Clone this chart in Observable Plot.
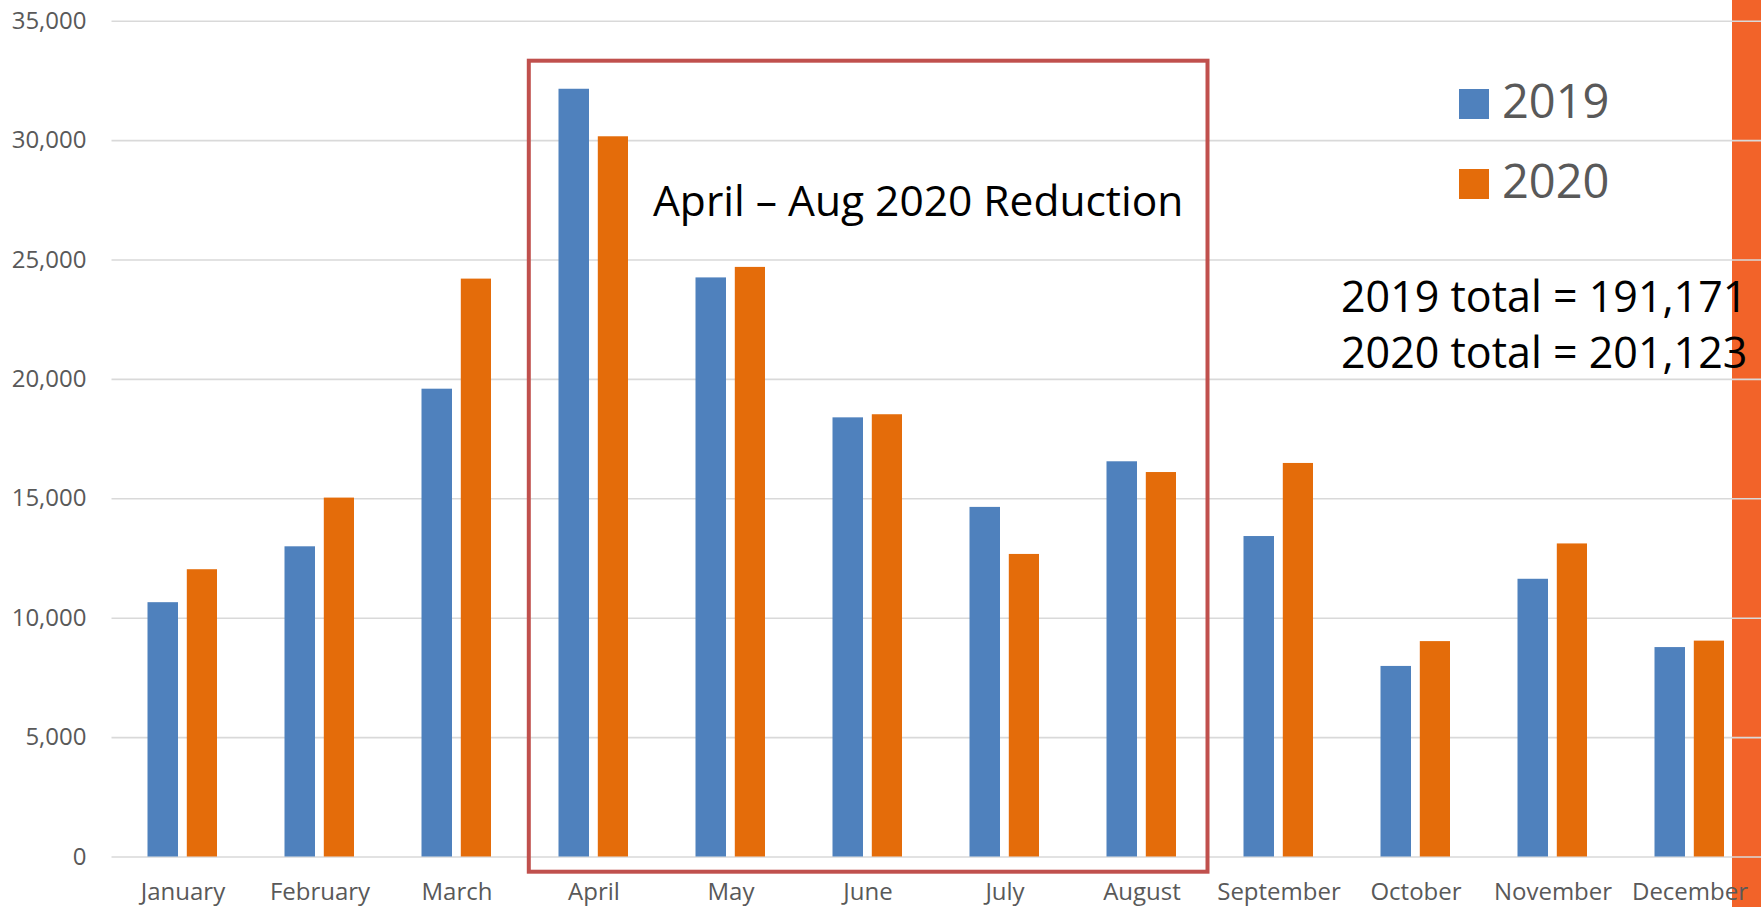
<!DOCTYPE html>
<html>
<head>
<meta charset="utf-8">
<script src="https://cdn.jsdelivr.net/npm/d3@7"></script>
<script src="https://cdn.jsdelivr.net/npm/@observablehq/plot@0.6"></script>
<style>
  html, body { margin: 0; padding: 0; background: #fff; overflow: hidden; }
  #wrap { position: relative; width: 1761px; height: 907px; }
  #deco { position: absolute; left: 1732px; top: 0; width: 29px; height: 907px; background: #F26329; }
  #chart { position: absolute; left: 0; top: 0; }
  .note { position: absolute; font-family: "Open Sans", sans-serif; white-space: nowrap; }
  .sw { position: absolute; width: 30px; height: 30px; }
</style>
</head>
<body>
<div id="wrap">
  <div id="deco"></div>
  <div id="chart"></div>
</div>
<script>
// ---- data ----
const months = ["January","February","March","April","May","June","July","August","September","October","November","December"];
const values2019 = [10650, 12990, 19590, 32150, 24250, 18390, 14640, 16550, 13420, 7980, 11630, 8770];
const values2020 = [12030, 15030, 24200, 30160, 24690, 18520, 12670, 16100, 16480, 9020, 13110, 9040];
const seriesNames = ["2019", "2020"];
const seriesColors = ["#4F81BD", "#E46C0A"];
const yTicks = [0, 5000, 10000, 15000, 20000, 25000, 30000, 35000];
const boxMonths = ["April", "August"];
const boxLabel = "April \u2013 Aug 2020 Reduction";
const totalLines = ["2019 total = 191,171", "2020 total = 201,123"];

const rows2019 = months.map((m, i) => ({month: m, value: values2019[i]}));
const rows2020 = months.map((m, i) => ({month: m, value: values2020[i]}));

const chart = Plot.plot({
  width: 1761,
  height: 907,
  marginTop: 20.7,
  marginBottom: 50.5,
  marginLeft: 111.5,
  marginRight: 0,
  style: {background: "transparent", fontFamily: "'Open Sans', sans-serif", fontSize: "24px", color: "#595959"},
  x: {domain: months, padding: 0, label: null},
  y: {domain: [0, 35000], label: null},
  marks: [
    Plot.ruleY(yTicks, {stroke: "#D9D9D9", strokeWidth: 1.6}),
    Plot.barY(rows2019, {x: "month", y: "value", fill: seriesColors[0], insetLeft: 33.5, insetRight: 73}),
    Plot.barY(rows2020, {x: "month", y: "value", fill: seriesColors[1], insetLeft: 72.8, insetRight: 34}),
    Plot.rect([{a: boxMonths[0], b: boxMonths[1]}], {x1: "a", x2: "b", fill: "none", stroke: "#C0504D", strokeWidth: 4, insetTop: 40, insetBottom: -15.2, insetLeft: 3.8, insetRight: 2.5}),
    Plot.axisY({ticks: yTicks, tickSize: 0, tickPadding: 25.5, tickFormat: d3.format(","), fontSize: 24, label: null}),
    Plot.axisX({tickSize: 0, tickPadding: 26, fontSize: 24, label: null})
  ]
});
document.getElementById("chart").appendChild(chart);

const wrap = document.getElementById("wrap");
function addNote(text, left, baseline, size, color) {
  const d = document.createElement("div");
  d.className = "note";
  d.textContent = text;
  d.style.fontSize = size + "px";
  d.style.lineHeight = size + "px";
  d.style.color = color;
  d.style.left = left + "px";
  d.style.top = (baseline - 0.888 * size) + "px";
  wrap.appendChild(d);
}
// annotation inside box
addNote(boxLabel, 653, 216.7, 42.5, "#000");
// totals
addNote(totalLines[0], 1341, 311.7, 43, "#000");
addNote(totalLines[1], 1341, 368.3, 43, "#000");
// legend
[[89, 119], [169, 199]].forEach(([top, base], i) => {
  const s = document.createElement("div");
  s.className = "sw";
  s.style.left = "1459px";
  s.style.top = top + "px";
  s.style.background = seriesColors[i];
  wrap.appendChild(s);
  addNote(seriesNames[i], 1502, base, 47, "#595959");
});
</script>
</body>
</html>
